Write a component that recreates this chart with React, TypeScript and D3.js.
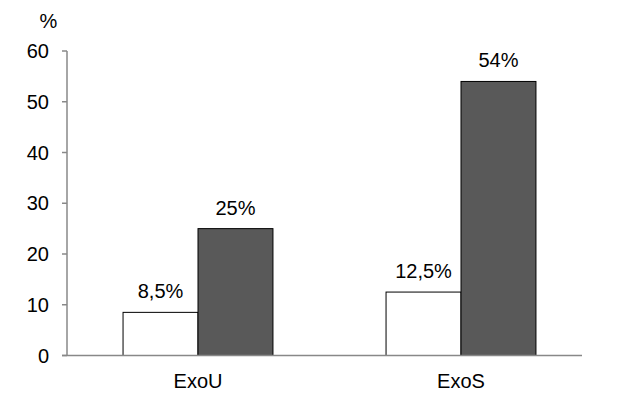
import React from "react";
import * as d3 from "d3";

const categories = ["ExoU", "ExoS"];
const seriesWhite = [8.5, 12.5];
const seriesDark = [25, 54];
const labelsWhite = ["8,5%", "12,5%"];
const labelsDark = ["25%", "54%"];
const yTicks = [0, 10, 20, 30, 40, 50, 60];
const seriesKeys = ["white", "dark"];

const W = 617;
const H = 402;
const font = "'Liberation Sans', Arial, sans-serif";
const fs = 20;

export default function App() {
  const x = d3
    .scaleBand<string>()
    .domain(categories)
    .range([66.5, 592.5])
    .paddingInner(0.43)
    .paddingOuter(0.215);
  const xs = d3.scaleBand<string>().domain(seriesKeys).range([0, x.bandwidth()]);
  const y = d3.scaleLinear().domain([0, 60]).range([355.5, 51]);
  const axisX = 67;
  const axisEnd = 582;

  const bars: { key: string; cat: string; v: number; label: string }[] = [];
  categories.forEach((c, i) => {
    bars.push({ key: "white", cat: c, v: seriesWhite[i], label: labelsWhite[i] });
    bars.push({ key: "dark", cat: c, v: seriesDark[i], label: labelsDark[i] });
  });

  return (
    <svg
      width={W}
      height={H}
      style={{ position: "absolute", left: 0, top: 0, background: "#fff" }}
      fontFamily={font}
    >
      <rect width={W} height={H} fill="#fff" />
      {bars.map((b, i) => {
        const bx = (x(b.cat) as number) + (xs(b.key) as number);
        return (
          <g key={i}>
            <rect
              x={bx}
              y={y(b.v)}
              width={xs.bandwidth()}
              height={y(0) - y(b.v)}
              fill={b.key === "white" ? "#ffffff" : "#595959"}
              stroke="#000"
              strokeWidth={1}
            />
            <text
              x={bx + xs.bandwidth() / 2}
              y={y(b.v) - 14}
              textAnchor="middle"
              fontSize={fs}
              fill="#000"
            >
              {b.label}
            </text>
          </g>
        );
      })}
      <line x1={axisX} x2={axisX} y1={y(60)} y2={y(0)} stroke="#888" strokeWidth={1.5} />
      <line x1={axisX - 5} x2={axisEnd} y1={y(0)} y2={y(0)} stroke="#888" strokeWidth={1.5} />
      {yTicks.map((t) => (
        <g key={t}>
          <line x1={axisX - 5} x2={axisX} y1={y(t)} y2={y(t)} stroke="#888" strokeWidth={1.5} />
          <text x={49} y={y(t) + 7} textAnchor="end" fontSize={fs} fill="#000">
            {t}
          </text>
        </g>
      ))}
      <text x={48.5} y={28} textAnchor="middle" fontSize={fs} fill="#000">
        %
      </text>
      {categories.map((c) => (
        <text
          key={c}
          x={(x(c) as number) + x.bandwidth() / 2}
          y={388}
          textAnchor="middle"
          fontSize={fs}
          fill="#000"
        >
          {c}
        </text>
      ))}
    </svg>
  );
}
